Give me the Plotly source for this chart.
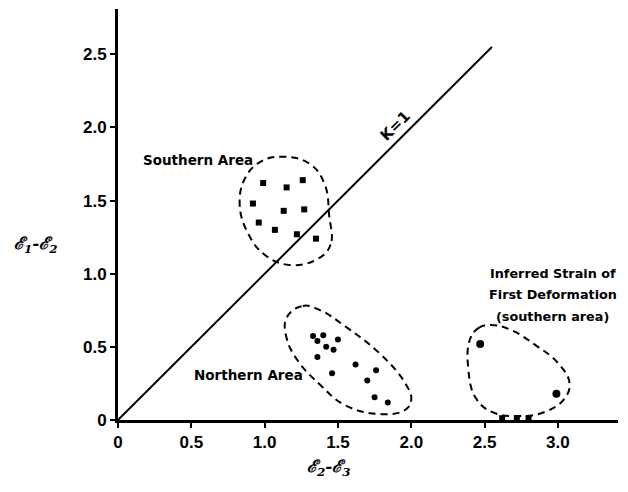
import plotly.graph_objects as go

# ---- data ----
southern_x = [0.99, 1.15, 1.26, 0.92, 1.13, 1.27, 0.96, 1.07, 1.22, 1.35]
southern_y = [1.62, 1.59, 1.64, 1.48, 1.43, 1.44, 1.35, 1.30, 1.27, 1.24]

northern_x = [1.33, 1.40, 1.36, 1.50, 1.42, 1.47, 1.36, 1.46, 1.62, 1.76, 1.70, 1.75, 1.84]
northern_y = [0.575, 0.58, 0.54, 0.55, 0.50, 0.48, 0.43, 0.32, 0.38, 0.34, 0.27, 0.155, 0.12]

inferred_x = [2.47, 2.99]
inferred_y = [0.52, 0.18]
inferred_low_x = [2.62, 2.72, 2.80]
inferred_low_y = [0.012, 0.012, 0.012]

k1_x = [0, 2.55]
k1_y = [0, 2.55]

# envelope outlines (dashed)
env_south_x = [1.44, 1.45, 1.36, 1.17, 1.00, 0.89, 0.83, 0.87, 0.98, 1.13, 1.31, 1.41, 1.44]
env_south_y = [1.40, 1.20, 1.10, 1.06, 1.13, 1.27, 1.47, 1.66, 1.77, 1.80, 1.75, 1.61, 1.40]

env_north_x = [1.15, 1.26, 1.38, 1.55, 1.79, 1.96, 2.00, 1.96, 1.80, 1.55, 1.38, 1.23, 1.15, 1.15]
env_north_y = [0.70, 0.78, 0.75, 0.64, 0.45, 0.25, 0.14, 0.07, 0.04, 0.10, 0.24, 0.40, 0.56, 0.70]

env_inf_x = [2.40, 2.46, 2.54, 2.67, 2.85, 3.00, 3.08, 3.04, 2.91, 2.74, 2.55, 2.44, 2.39, 2.40]
env_inf_y = [0.55, 0.63, 0.65, 0.62, 0.51, 0.39, 0.25, 0.14, 0.055, 0.027, 0.055, 0.15, 0.34, 0.55]

x_ticks = [0, 0.5, 1.0, 1.5, 2.0, 2.5, 3.0]
x_ticktext = ["0", "0.5", "1.0", "1.5", "2.0", "2.5", "3.0"]
y_ticks = [0, 0.5, 1.0, 1.5, 2.0, 2.5]
y_ticktext = ["0", "0.5", "1.0", "1.5", "2.0", "2.5"]

fig = go.Figure()

dash_line = dict(color="black", width=2, dash="7px,5px", shape="spline", smoothing=1.2)
for ex, ey in [(env_south_x, env_south_y), (env_north_x, env_north_y), (env_inf_x, env_inf_y)]:
    fig.add_trace(go.Scatter(x=ex, y=ey, mode="lines", line=dash_line,
                             hoverinfo="skip", showlegend=False, cliponaxis=False))

fig.add_trace(go.Scatter(x=k1_x, y=k1_y, mode="lines",
                         line=dict(color="black", width=2), showlegend=False, cliponaxis=False))

fig.add_trace(go.Scatter(x=southern_x, y=southern_y, mode="markers",
                         marker=dict(symbol="square", size=6, color="black"),
                         showlegend=False))
fig.add_trace(go.Scatter(x=northern_x, y=northern_y, mode="markers",
                         marker=dict(symbol="circle", size=6, color="black"),
                         showlegend=False))
fig.add_trace(go.Scatter(x=inferred_x, y=inferred_y, mode="markers",
                         marker=dict(symbol="circle", size=8, color="black"),
                         showlegend=False))
fig.add_trace(go.Scatter(x=inferred_low_x, y=inferred_low_y, mode="markers",
                         marker=dict(symbol="square", size=6, color="black"),
                         showlegend=False, cliponaxis=False))

txt_font = dict(family="DejaVu Sans", size=13.5, color="black", weight="bold")
inf_font = dict(family="DejaVu Sans", size=12.8, color="black", weight="bold")
ann = [
    dict(x=0.546, y=1.78, text="Southern Area", font=txt_font),
    dict(x=0.887, y=0.31, text="Northern Area", font=txt_font),
    dict(x=2.965, y=1.00, text="Inferred Strain of", font=inf_font),
    dict(x=2.965, y=0.855, text="First Deformation", font=inf_font),
    dict(x=2.965, y=0.71, text="(southern area)", font=inf_font),
]
for a in ann:
    fig.add_annotation(x=a["x"], y=a["y"], xref="x", yref="y", text=a["text"],
                       showarrow=False, font=a["font"], align="center")

fig.add_annotation(x=1.89, y=2.01, xref="x", yref="y", text="<b>K=1</b>", textangle=-45,
                   showarrow=False, font=dict(family="DejaVu Sans", size=15, color="black"))

lab_font = dict(family="DejaVu Serif", size=17, color="black")
fig.add_annotation(x=-0.212, y=0.426, xref="paper", yref="paper",
                   xanchor="left", yanchor="middle",
                   text="<b><i>ℰ<sub>1</sub>-ℰ<sub>2</sub></i></b>",
                   showarrow=False, font=lab_font)
fig.add_annotation(x=0.374, y=-0.083, xref="paper", yref="paper",
                   xanchor="left", yanchor="top",
                   text="<b><i>ℰ<sub>2</sub>-ℰ<sub>3</sub></i></b>",
                   showarrow=False, font=lab_font)

tick_font = dict(family="Liberation Sans", size=17, color="black", weight="bold")
fig.update_xaxes(range=[0, 3.41], showline=True, linewidth=3, linecolor="black",
                 ticks="outside", ticklen=5, tickwidth=1.5, tickcolor="black",
                 tickvals=x_ticks, ticktext=x_ticktext, tickfont=tick_font,
                 showgrid=False, zeroline=False, automargin=False)
fig.update_yaxes(range=[0, 2.81], showline=True, linewidth=3, linecolor="black",
                 ticks="outside", ticklen=5, tickwidth=1.5, tickcolor="black",
                 tickvals=y_ticks, ticktext=y_ticktext, tickfont=tick_font,
                 showgrid=False, zeroline=False, automargin=False)

# page body has an 8px default margin: compensate so the plot lands where the reference has it
fig.update_layout(width=620, height=484,
                  margin=dict(l=110, r=10, t=1, b=72, autoexpand=False),
                  plot_bgcolor="white", paper_bgcolor="white", showlegend=False)

fig.write_html("out.html")
